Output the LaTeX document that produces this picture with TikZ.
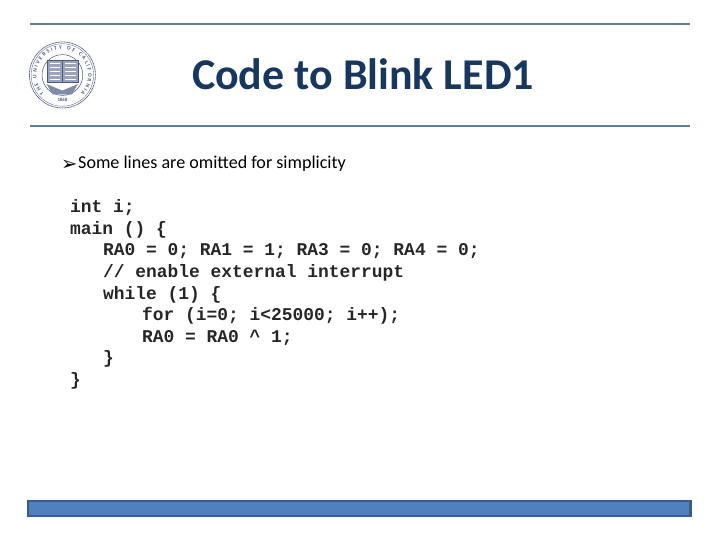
\documentclass[tikz,border=0pt]{standalone}
\usepackage{fontspec}
\setmainfont{Carlito}
\setmonofont{Liberation Mono}
\newfontfamily\symfont{DejaVu Sans}
\usetikzlibrary{positioning}
\usetikzlibrary{decorations.text}
\definecolor{titleblue}{HTML}{17375E}
\definecolor{rulegray}{HTML}{5B7F95}
\definecolor{barfill}{HTML}{4F81BD}
\definecolor{baredge}{HTML}{385D8A}
\definecolor{sealblue}{HTML}{4A5A7E}
\tikzset{
codeline/.style={anchor=base west,inner sep=0pt,font=\fontsize{17}{20}\selectfont\ttfamily\bfseries,text=black!85},
headrule/.style={draw=rulegray,line width=1.7pt},
}
\begin{document}
\begin{tikzpicture}
\useasboundingbox (0,0) rectangle (24,18);
\draw[headrule] (1,17.2) -- (23,17.2);
\draw[headrule] (1,13.8) -- (23,13.8);
\node[font=\fontsize{41.7}{48}\selectfont\bfseries,text=titleblue,anchor=base,inner sep=0pt] (title) at (12.1,15.03) {Code to Blink LED1};

% seal
\draw[sealblue,line width=0.7pt,dash pattern=on 1pt off 0.5pt] (2.08,15.5) circle (1.1);
\draw[sealblue,line width=0.3pt] (2.08,15.5) circle (1.04);
\draw[sealblue,line width=0.5pt] (2.08,15.5) circle (0.68);
\path[postaction={decorate,decoration={text along path,text align=fit to path,text={|\fontsize{5.2}{6}\selectfont\bfseries\color{sealblue}|THE UNIVERSITY OF CALIFORNIA}}}] (1.47,14.89) arc (225:-45:0.86);
\draw[fill=sealblue!55,draw=sealblue] (1.57,15.25) rectangle (2.6,16);
\draw[sealblue,thin] (2.08,15.25) -- (2.08,16);
\foreach \yy in {15.37,15.5,15.63,15.76,15.89}{
\draw[white,very thin] (1.65,\yy) -- (2,\yy);
\draw[white,very thin] (2.16,\yy) -- (2.52,\yy);
}
\fill[sealblue!70] (1.55,15.2) -- (2.08,14.98) -- (2.6,15.2) -- (2.4,14.85) -- (1.75,14.85) -- cycle;
\node[font=\fontsize{4.5}{5}\selectfont\bfseries,text=sealblue,inner sep=0pt] (year) at (2.08,14.66) {1868};

\node[anchor=base west,inner sep=0pt,font=\fontsize{18.5}{20}\selectfont\symfont] (arrow) at (2.03,12.33) {➢};
\node[anchor=base west,inner sep=0pt,font=\fontsize{17.15}{20}\selectfont] (note) at (2.6,12.37) {Some lines are omitted for simplicity};

\node[codeline] (l1) at (2.33,10.91) {int i;};
\node[codeline] (l2) at (2.33,10.19) {main () \{};
\node[codeline] (l3) at (3.43,9.47) {RA0 = 0; RA1 = 1; RA3 = 0; RA4 = 0;};
\node[codeline] (l4) at (3.43,8.75) {// enable external interrupt};
\node[codeline] (l5) at (3.43,8.03) {while (1) \{};
\node[codeline] (l6) at (4.73,7.31) {for (i=0; i<25000; i++);};
\node[codeline] (l7) at (4.73,6.59) {RA0 = RA0 \^{} 1;};
\node[codeline] (l8) at (3.43,5.87) {\}};
\node[codeline] (l9) at (2.33,5.15) {\}};

\draw[fill=barfill,draw=baredge,line width=2.2pt] (0.94,0.81) rectangle (23.02,1.3);
\end{tikzpicture}
\end{document}
